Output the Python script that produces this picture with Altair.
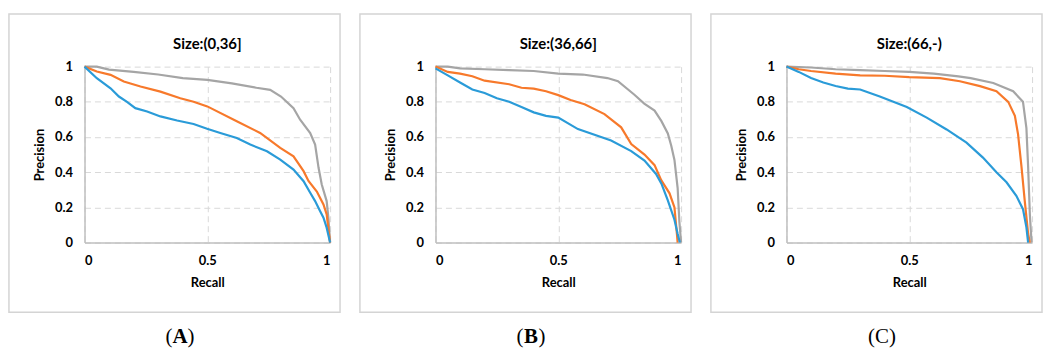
import altair as alt
import pandas as pd

# ---------------- data ----------------
panel_titles = ["Size:(0,36]", "Size:(36,66]", "Size:(66,-)"]
panel_letters = ["A", "B", "C"]
label_bold = [True, True, False]
series_names = ["gray", "orange", "blue"]
series_colors = ["#A5A5A5", "#F7792B", "#2A9BD8"]

# Panel A
A_gray_r = [0, 0.05, 0.1, 0.2, 0.3, 0.4, 0.5, 0.6, 0.7, 0.756, 0.8, 0.851, 0.878, 0.919, 0.939, 0.953, 0.966, 0.986, 0.993, 1.0]
A_gray_p = [1, 1.0, 0.983, 0.97, 0.955, 0.935, 0.925, 0.905, 0.88, 0.868, 0.83, 0.764, 0.698, 0.623, 0.557, 0.425, 0.33, 0.236, 0.14, 0]
A_orange_r = [0, 0.05, 0.106, 0.16, 0.228, 0.309, 0.39, 0.444, 0.5, 0.62, 0.715, 0.797, 0.851, 0.892, 0.912, 0.946, 0.973, 0.986, 1.0]
A_orange_p = [1, 0.972, 0.953, 0.915, 0.887, 0.858, 0.82, 0.80, 0.774, 0.69, 0.623, 0.538, 0.49, 0.406, 0.35, 0.29, 0.217, 0.16, 0]
A_blue_r = [0, 0.05, 0.106, 0.14, 0.173, 0.207, 0.255, 0.309, 0.377, 0.444, 0.499, 0.553, 0.62, 0.675, 0.743, 0.797, 0.851, 0.892, 0.919, 0.939, 0.959, 0.973, 0.986, 1.0]
A_blue_p = [1, 0.934, 0.877, 0.83, 0.80, 0.764, 0.745, 0.717, 0.694, 0.674, 0.647, 0.623, 0.594, 0.557, 0.519, 0.472, 0.415, 0.349, 0.283, 0.236, 0.179, 0.142, 0.085, 0]

# Panel B
B_gray_r = [0, 0.05, 0.1, 0.2, 0.3, 0.4, 0.5, 0.6, 0.7, 0.743, 0.81, 0.85, 0.892, 0.92, 0.946, 0.96, 0.973, 0.986, 0.993, 1.0]
B_gray_p = [1, 1.0, 0.99, 0.985, 0.98, 0.975, 0.96, 0.955, 0.935, 0.917, 0.84, 0.79, 0.75, 0.69, 0.62, 0.55, 0.47, 0.31, 0.12, 0]
B_orange_r = [0, 0.05, 0.1, 0.15, 0.2, 0.3, 0.35, 0.4, 0.45, 0.5, 0.55, 0.607, 0.688, 0.756, 0.797, 0.851, 0.892, 0.919, 0.953, 0.973, 0.983, 0.986]
B_orange_p = [1, 0.97, 0.96, 0.945, 0.92, 0.9, 0.88, 0.875, 0.86, 0.838, 0.81, 0.786, 0.73, 0.655, 0.56, 0.50, 0.44, 0.355, 0.28, 0.20, 0.05, 0]
B_blue_r = [0, 0.05, 0.1, 0.15, 0.2, 0.25, 0.3, 0.35, 0.4, 0.45, 0.5, 0.58, 0.715, 0.797, 0.851, 0.898, 0.92, 0.946, 0.973, 0.986, 0.995]
B_blue_p = [0.99, 0.95, 0.91, 0.87, 0.85, 0.82, 0.80, 0.77, 0.74, 0.72, 0.71, 0.645, 0.58, 0.52, 0.466, 0.39, 0.335, 0.24, 0.13, 0.05, 0]

# Panel C
C_gray_r = [0, 0.1, 0.2, 0.3, 0.4, 0.5, 0.6, 0.7, 0.75, 0.842, 0.923, 0.963, 0.977, 0.984, 0.991, 0.998]
C_gray_p = [1, 0.995, 0.985, 0.98, 0.975, 0.97, 0.96, 0.945, 0.935, 0.907, 0.86, 0.80, 0.65, 0.43, 0.16, 0.0]
C_orange_r = [0, 0.05, 0.1, 0.2, 0.3, 0.4, 0.5, 0.625, 0.706, 0.788, 0.855, 0.903, 0.93, 0.943, 0.957, 0.97, 0.984, 0.991]
C_orange_p = [1, 0.985, 0.975, 0.96, 0.95, 0.948, 0.94, 0.935, 0.917, 0.889, 0.86, 0.80, 0.72, 0.615, 0.43, 0.24, 0.05, 0]
C_blue_r = [0, 0.05, 0.1, 0.15, 0.2, 0.25, 0.30, 0.38, 0.49, 0.571, 0.652, 0.733, 0.80, 0.855, 0.896, 0.936, 0.963, 0.977, 0.984]
C_blue_p = [1, 0.97, 0.935, 0.91, 0.89, 0.875, 0.87, 0.83, 0.77, 0.71, 0.643, 0.568, 0.483, 0.40, 0.343, 0.266, 0.19, 0.087, 0.0]

panel_series = [
    [(A_gray_r, A_gray_p), (A_orange_r, A_orange_p), (A_blue_r, A_blue_p)],
    [(B_gray_r, B_gray_p), (B_orange_r, B_orange_p), (B_blue_r, B_blue_p)],
    [(C_gray_r, C_gray_p), (C_orange_r, C_orange_p), (C_blue_r, C_blue_p)],
]

x_ticks = [0, 0.5, 1]
y_ticks = [0, 0.2, 0.4, 0.6, 0.8, 1]

# ---------------- layout / style ----------------
PW, PH = 247, 177
FONT = "Lato"
GRID = "#D9D9D9"
AXISC = "#BFBFBF"
CAP_X, CAP_Y = 96, 272


def make_panel(i):
    rows = []
    for s, (rr, pp) in zip(series_names, panel_series[i]):
        for k, (r, p) in enumerate(zip(rr, pp)):
            rows.append({"recall": r, "precision": p, "series": s, "idx": k})
    df = pd.DataFrame(rows)

    one = pd.DataFrame({"k": [0]})

    box = alt.Chart(one).mark_rect(
        fillOpacity=0, stroke="#D4D4D4", strokeWidth=1.5
    ).encode(
        x=alt.value(-76), x2=alt.value(257), y=alt.value(-53), y2=alt.value(247)
    )

    lines = alt.Chart(df).mark_line(strokeWidth=2.2).encode(
        x=alt.X("recall:Q", scale=alt.Scale(domain=[0, 1], nice=False),
                axis=alt.Axis(title="Recall", values=x_ticks, format="~g",
                              grid=True, gridDash=[6, 4], gridColor=GRID,
                              domainColor=AXISC, domainWidth=1.5, ticks=False,
                              labelPadding=12, labelFontSize=13, labelFont=FONT,
                              labelFontWeight="bold", labelColor="#000",
                              titleFont=FONT, titleFontSize=13, titleFontWeight="bold",
                              titlePadding=9, titleColor="#000")),
        y=alt.Y("precision:Q", scale=alt.Scale(domain=[0, 1], nice=False),
                axis=alt.Axis(title="Precision", values=y_ticks, format="~g",
                              grid=True, gridDash=[6, 4], gridColor=GRID,
                              domainColor=AXISC, domainWidth=1.5, ticks=False,
                              labelPadding=12, labelFontSize=13, labelFont=FONT,
                              labelFontWeight="bold", labelColor="#000",
                              titleFont=FONT, titleFontSize=13, titleFontWeight="bold",
                              titlePadding=8, titleColor="#000")),
        color=alt.Color("series:N", scale=alt.Scale(domain=series_names, range=series_colors),
                        legend=None),
        order=alt.Order("idx:Q"),
    )

    title = alt.Chart(one).mark_text(
        text=panel_titles[i], font=FONT, fontSize=15, fontWeight="bold",
        color="#000", baseline="middle", align="center"
    ).encode(x=alt.value(PW / 2), y=alt.value(-23))

    half = 7.6 if label_bold[i] else 7.0
    cap_letter = alt.Chart(one).mark_text(
        text=panel_letters[i], font="Liberation Serif", fontSize=21,
        fontWeight="bold" if label_bold[i] else "normal",
        color="#000", baseline="middle", align="center"
    ).encode(x=alt.value(CAP_X), y=alt.value(CAP_Y))
    cap_open = alt.Chart(one).mark_text(
        text="(", font="Liberation Serif", fontSize=21, color="#000",
        baseline="middle", align="right"
    ).encode(x=alt.value(CAP_X - half), y=alt.value(CAP_Y))
    cap_close = alt.Chart(one).mark_text(
        text=")", font="Liberation Serif", fontSize=21, color="#000",
        baseline="middle", align="left"
    ).encode(x=alt.value(CAP_X + half), y=alt.value(CAP_Y))

    return alt.layer(box, lines, title, cap_open, cap_letter, cap_close).properties(
        width=PW, height=PH)


chart = alt.hconcat(*[make_panel(i) for i in range(3)], spacing=18).properties(
    padding={"left": 8, "top": 12, "right": 0, "bottom": 0},
    background="white",
).configure_view(stroke=None)

chart.save("out.html", embed_options={"renderer": "svg", "actions": False})
